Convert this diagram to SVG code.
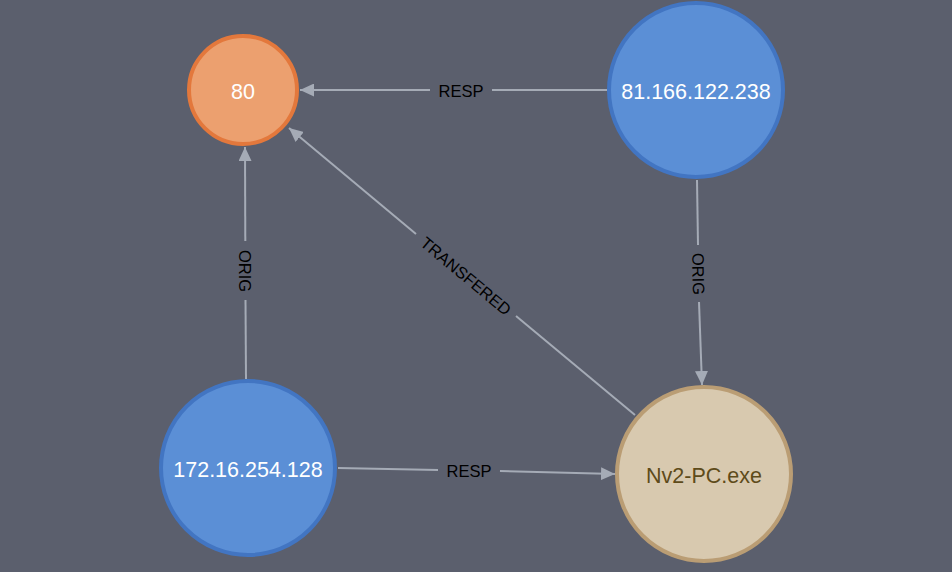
<svg xmlns="http://www.w3.org/2000/svg" width="952" height="572" viewBox="0 0 952 572">
<style>
.edge{stroke:#A5ABB6;stroke-width:2;fill:none}
.elabel{font-family:"Liberation Sans",Arial,sans-serif;font-size:16.5px;fill:#000;text-anchor:middle;dominant-baseline:central}
.nlabel{font-family:"Liberation Sans",Arial,sans-serif;font-size:21.5px;fill:#FFFFFF;text-anchor:middle;dominant-baseline:central}
.blue{fill:#5B8FD6;stroke:#4275C2;stroke-width:4}
.orange{fill:#ECA06F;stroke:#E3783C;stroke-width:4}
.tan{fill:#D8C9AF;stroke:#BA9D74;stroke-width:4}
</style>
<defs>
<marker id="arrow" markerUnits="userSpaceOnUse" markerWidth="14" markerHeight="13" viewBox="0 0 14 13" refX="14" refY="6.5" orient="auto">
<path d="M0,0 L14,6.5 L0,13 Z" fill="#A5ABB6"/>
</marker>
</defs>
<rect width="952" height="572" fill="#5B5F6D"/>
<g id="connectors">
<g id="e-resp-top">
<path class="edge" d="M607,90 L492,90"/>
<path class="edge" d="M430,90 L300,90" marker-end="url(#arrow)"/>
<text class="elabel" x="461" y="90.5">RESP</text>
</g>
<g id="e-orig-left">
<path class="edge" d="M246,379 L245.5,300"/>
<path class="edge" d="M245.3,241 L245,147" marker-end="url(#arrow)"/>
<text class="elabel" transform="translate(245,271) rotate(90)">ORIG</text>
</g>
<g id="e-orig-right">
<path class="edge" d="M697,180 L698,245"/>
<path class="edge" d="M699,302 L702,385" marker-end="url(#arrow)"/>
<text class="elabel" transform="translate(698.5,274) rotate(89)">ORIG</text>
</g>
<g id="e-transfered">
<path class="edge" d="M635,415 L516,316"/>
<path class="edge" d="M416,234 L289,128" marker-end="url(#arrow)"/>
<text class="elabel" transform="translate(466,276) rotate(39.8)">TRANSFERED</text>
</g>
<g id="e-resp-bottom">
<path class="edge" d="M338,468 L438,470"/>
<path class="edge" d="M500,471 L615,474" marker-end="url(#arrow)"/>
<text class="elabel" x="469" y="471">RESP</text>
</g>
</g>
<g id="node-80">
<circle class="orange" cx="243" cy="90" r="54"/>
<text class="nlabel" x="243" y="92">80</text>
</g>
<g id="node-81-166-122-238">
<circle class="blue" cx="696" cy="90" r="87"/>
<text class="nlabel" x="696" y="92">81.166.122.238</text>
</g>
<g id="node-172-16-254-128">
<circle class="blue" cx="248" cy="468" r="87"/>
<text class="nlabel" x="248" y="470">172.16.254.128</text>
</g>
<g id="node-nv2-pc-exe">
<circle class="tan" cx="704" cy="474" r="87"/>
<text class="nlabel" x="704" y="476" style="fill:#5E4B1A">Nv2-PC.exe</text>
</g>
</svg>
